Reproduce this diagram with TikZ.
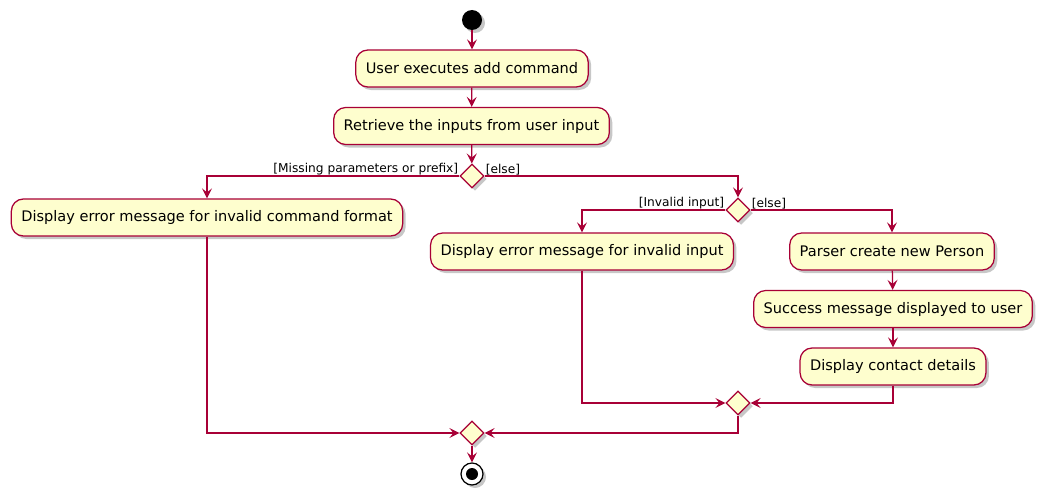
\documentclass[tikz,border=0pt]{standalone}
\usepackage{fontspec}
\setmainfont{DejaVu Sans}
\usetikzlibrary{shapes.geometric,arrows.meta,shadows}
\definecolor{pborder}{HTML}{A80036}
\definecolor{pfill}{HTML}{FEFECE}
\tikzset{
  shad/.style={drop shadow={shadow xshift=3pt,shadow yshift=-3pt,fill=black,opacity=0.22}},
  act/.style={draw=pborder, fill=pfill, rounded corners=12pt, line width=1.25pt,
    minimum height=37pt, inner xsep=10pt, font=\fontsize{14.55}{17}\selectfont, shad},
  dec/.style={diamond, draw=pborder, fill=pfill, line width=1.25pt, minimum width=24pt,
    minimum height=24pt, inner sep=0pt, shad},
  flow/.style={draw=pborder, line width=1.25pt, -{Stealth[length=10pt,width=10pt,inset=4pt]}},
  lbl/.style={font=\fontsize{12.2}{14}\selectfont, inner sep=1pt},
}
\begin{document}
\begin{tikzpicture}[x=1pt,y=-1pt]
\fill[white] (0,0) rectangle (1049,503);
\useasboundingbox (0,0) rectangle (1049,503);
\node[circle, fill=black, minimum size=20pt, inner sep=0pt, shad] (start) at (472,20) {};
\node[act] (a1) at (472,68.5) {User executes add command};
\node[act] (a2) at (471.5,126) {Retrieve the inputs from user input};
\node[dec] (d1) at (472,176) {};
\node[act] (a3) at (207,217.5) {Display error message for invalid command format};
\node[dec] (d2) at (738,210) {};
\node[act] (a4) at (582,251.5) {Display error message for invalid input};
\node[act] (a5) at (892,251.5) {Parser create new Person};
\node[act] (a6) at (893,309) {Success message displayed to user};
\node[act] (a7) at (893,366.5) {Display contact details};
\node[dec] (d3) at (738,403) {};
\node[dec] (d4) at (472,433) {};
\node[circle, draw=black, fill=white, line width=1.25pt, minimum size=22pt, inner sep=0pt, shad] (stop) at (472,474) {};
\node[circle, fill=black, minimum size=12pt, inner sep=0pt] (stopin) at (stop) {};

\draw[flow] (start) -- (a1);
\draw[flow] (a1) -- (a2);
\draw[flow] (a2) -- (d1);
\draw[flow] (d1.west) -| (a3.north);
\draw[flow] (d1.east) -| (d2.north);
\node[lbl, anchor=south east] (l1) at (d1.west) {[Missing parameters or prefix]};
\node[lbl, anchor=south west] (l2) at (d1.east) {[else]};
\draw[flow] (d2.west) -| (a4.north);
\draw[flow] (d2.east) -| (a5.north);
\node[lbl, anchor=south east] (l3) at (d2.west) {[Invalid input]};
\node[lbl, anchor=south west] (l4) at (d2.east) {[else]};
\draw[flow] (a5) -- (a6);
\draw[flow] (a6) -- (a7);
\draw[flow] (a4.south) |- (d3.west);
\draw[flow] (a7.south) |- (d3.east);
\draw[flow] (a3.south) |- (d4.west);
\draw[flow] (d3.south) |- (d4.east);
\draw[flow] (d4) -- (stop);
\end{tikzpicture}
\end{document}
